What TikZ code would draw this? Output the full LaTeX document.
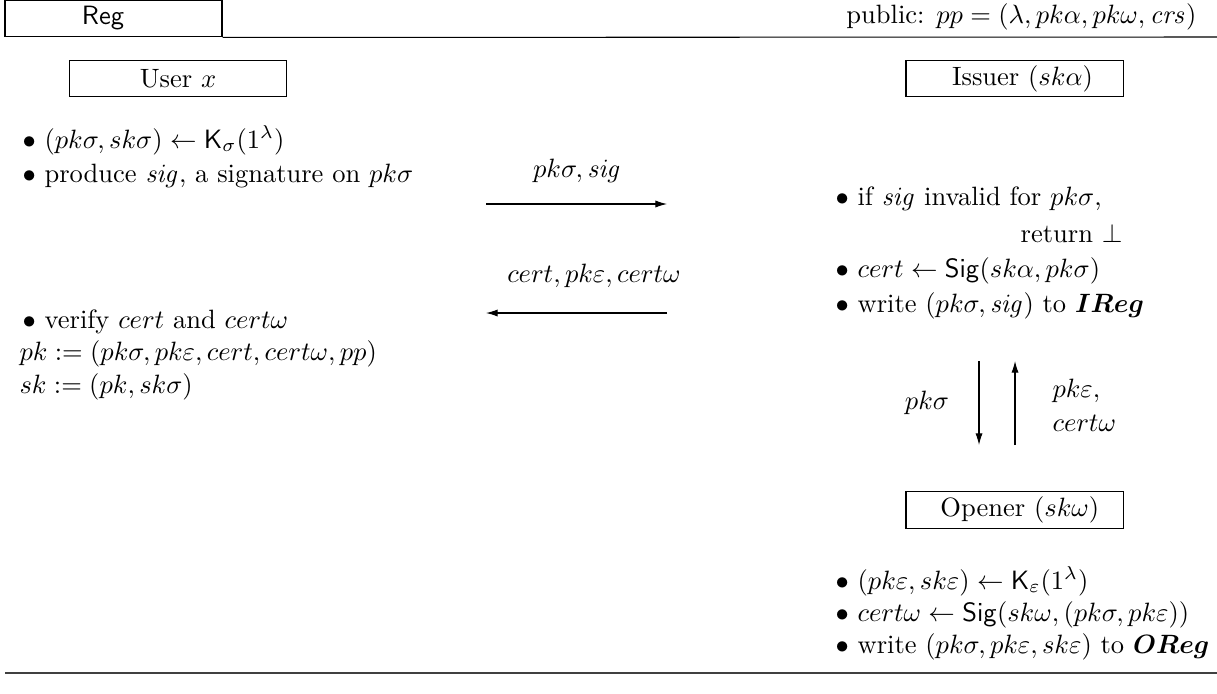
\documentclass[tikz,border=0pt]{standalone}
\usepackage{amsmath,amssymb,bm}
\usetikzlibrary{arrows.meta}
\newcommand{\sigv}{\mathit{sig}}
\begin{document}
\begin{tikzpicture}[x=0.3774pt,y=-0.3774pt,
  txt/.style={inner sep=0pt, anchor=base west},
  txtc/.style={inner sep=0pt, anchor=base},
  txte/.style={inner sep=0pt, anchor=base east},
  role/.style={draw, line width=0.4pt, minimum width=81.9pt, minimum height=13.9pt, inner sep=0pt},
  msg/.style={-{Latex[length=4.4pt,width=2.7pt]}, line width=0.4pt},
  rule/.style={line width=0.6pt, draw=black!75}]
\useasboundingbox (0,0) rectangle (1217,693);
% header
\node[role] (reg) at (113.5,18.5) {};
\node[inner sep=0pt] (reglbl) at (103,18) {\textsf{Reg}};
\coordinate (topr) at (1217,37);
\draw[line width=0.4pt] (reg.south east) -- (topr);
\node[txte] (pub) at (1197,23) {public: $pp = (\lambda, pk\alpha, pk\omega, \mathit{crs})$};
% roles
\node[role] (user) at (178,78.5) {User $x$};
\node[role] (issuer) at (1014.5,78.5) {\hspace*{6pt}Issuer $(sk\alpha)$};
\node[role] (opener) at (1014.5,510) {\hspace*{4pt}Opener $(sk\omega)$};
% user steps
\node[txt] (u1) at (22,148) {$\bullet$ $(pk\sigma, sk\sigma) \leftarrow \mathsf{K}_\sigma(1^\lambda)$};
\node[txt] (u2) at (22,182) {$\bullet$ produce $\sigv$, a signature on $pk\sigma$};
\node[txt] (u3) at (22,328) {$\bullet$ verify $cert$ and $cert\omega$};
\node[txt] (u4) at (19,360) {$pk := (pk\sigma, pk\varepsilon, cert, cert\omega, pp)$};
\node[txt] (u5) at (19,393) {$sk := (pk, sk\sigma)$};
% messages user <-> issuer
\coordinate (m1s) at (486,204);
\coordinate (m1e) at (667,204);
\draw[msg] (m1s) -- (m1e);
\node[txtc] (m1l) at (577,177) {$pk\sigma, \sigv$};
\coordinate (m2s) at (667,313);
\coordinate (m2e) at (486,313);
\draw[msg] (m2s) -- (m2e);
\node[txtc] (m2l) at (594,282) {$cert, pk\varepsilon, cert\omega$};
% issuer steps
\node[txt] (i1) at (835,205) {$\bullet$ if $\sigv$ invalid for $pk\sigma$,};
\node[txte] (i2) at (1123,242) {return $\bot$};
\node[txt] (i3) at (835,277) {$\bullet$ $cert \leftarrow \mathsf{Sig}(sk\alpha, pk\sigma)$};
\node[txt] (i4) at (835,312) {$\bullet$ write $(pk\sigma, \sigv)$ to $\boldsymbol{IReg}$};
% messages issuer <-> opener
\coordinate (v1s) at (979,361);
\coordinate (v1e) at (979,445);
\draw[msg] (v1s) -- (v1e);
\coordinate (v2s) at (1015,445);
\coordinate (v2e) at (1015,361);
\draw[msg] (v2s) -- (v2e);
\node[txtc] (v1l) at (927,409) {$pk\sigma$};
\node[txt] (v2l) at (1052,397) {$pk\varepsilon,$};
\node[txt] (v2m) at (1052,431) {$cert\omega$};
% opener steps
\node[txt] (o1) at (835,589) {$\bullet$ $(pk\varepsilon, sk\varepsilon) \leftarrow \mathsf{K}_\varepsilon(1^\lambda)$};
\node[txt] (o2) at (835,621) {$\bullet$ $cert\omega \leftarrow \mathsf{Sig}(sk\omega, (pk\sigma, pk\varepsilon))$};
\node[txt] (o3) at (835,653) {$\bullet$ write $(pk\sigma, pk\varepsilon, sk\varepsilon)$ to $\boldsymbol{OReg}$};
% bottom rule
\coordinate (bl) at (5,673);
\coordinate (br) at (1217,673);
\draw[rule] (bl) -- (br);
\end{tikzpicture}
\end{document}
